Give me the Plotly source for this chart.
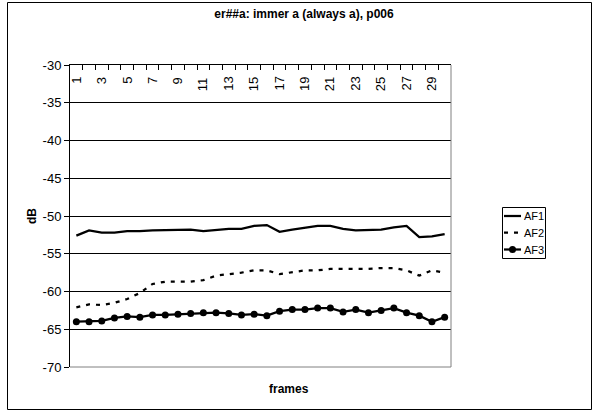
import plotly.graph_objects as go

# Frame numbers and the three formant-amplitude tracks (dB)
frames = list(range(1, 31))
af1 = [-52.6, -51.9, -52.2, -52.2, -52.0, -52.0, -51.9, -51.9, -51.9, -51.8,
       -52.0, -51.9, -51.7, -51.7, -51.3, -51.2, -52.1, -51.8, -51.6, -51.3,
       -51.3, -51.7, -51.9, -51.9, -51.8, -51.5, -51.3, -52.8, -52.7, -52.4]
af2 = [-62.1, -61.7, -61.8, -61.5, -61.0, -60.2, -59.0, -58.7, -58.7, -58.7,
       -58.5, -57.9, -57.7, -57.5, -57.2, -57.2, -57.7, -57.4, -57.2, -57.2,
       -57.0, -57.0, -57.0, -57.0, -56.9, -56.9, -57.2, -57.9, -57.2, -57.5]
af3 = [-64.0, -64.0, -63.9, -63.5, -63.3, -63.4, -63.1, -63.1, -63.0, -62.9,
       -62.8, -62.8, -62.9, -63.1, -63.0, -63.2, -62.6, -62.4, -62.4, -62.2,
       -62.2, -62.7, -62.4, -62.8, -62.5, -62.2, -62.8, -63.2, -64.0, -63.4]
series_names = ["AF1", "AF2", "AF3"]
y_ticks = list(range(-70, -29, 5))
x_tick_frames = frames[::2]

W, H = 594, 411
L, R, T, B = 70, 451, 65, 367          # plot area in pixels
FONT = "Liberation Sans, Arial, sans-serif"
LINE_W = 2.25
DASH = "4px,6px"


def px_x(p):
    return (p - L) / (R - L)


def px_y(p):
    return (B - p) / (B - T)


fig = go.Figure()
styles = [
    dict(mode="lines", line=dict(color="black", width=LINE_W)),
    dict(mode="lines", line=dict(color="black", width=LINE_W, dash=DASH)),
    dict(mode="lines+markers", line=dict(color="black", width=LINE_W),
         marker=dict(color="black", size=7, symbol="circle")),
]
for name, ys, st in zip(series_names, [af1, af2, af3], styles):
    fig.add_trace(go.Scatter(x=frames, y=ys, name=name, showlegend=False, **st))

fig.update_layout(
    width=W, height=H,
    margin=dict(l=L, r=W - R, t=T, b=H - B, autoexpand=False),
    paper_bgcolor="white", plot_bgcolor="white",
    font=dict(family=FONT, size=13, color="black"),
    showlegend=False,
    title=dict(text="<b>er##a: immer a (always a), p006</b>",
               x=304 / W, xanchor="center", y=1 - 14 / H, yanchor="middle",
               font=dict(size=12)),
)

fig.update_xaxes(
    range=[0.5, 30.5], side="top",
    showline=True, linecolor="black", linewidth=1,
    showgrid=False, zeroline=False, showticklabels=False,
    tickmode="array", tickvals=x_tick_frames, ticks="inside", ticklen=0,
    minor=dict(tickmode="linear", tick0=0.5, dtick=1, ticks="inside",
               ticklen=5, tickcolor="black", tickwidth=1, showgrid=False),
)

fig.update_yaxes(
    range=[-70, -30],
    tickmode="array", tickvals=y_ticks, ticktext=[str(v) for v in y_ticks],
    showline=True, linecolor="black", linewidth=1,
    ticks="outside", ticklen=5, tickcolor="black",
    showgrid=True, gridcolor="black", gridwidth=1, zeroline=False,
    tickfont=dict(size=13),
    title=dict(text="<b>dB</b>", font=dict(size=12), standoff=3),
)

# category labels, rotated, hanging just under the top axis line
for f in x_tick_frames:
    fig.add_annotation(text=str(f), xref="x", yref="paper", x=f, y=px_y(75),
                       xanchor="center", yanchor="top", textangle=-90,
                       showarrow=False, font=dict(size=13))

# right and bottom edges of the plot area in grey
fig.add_shape(type="line", xref="paper", yref="paper", x0=1, x1=1, y0=0, y1=1,
              line=dict(color="#808080", width=1))
fig.add_shape(type="line", xref="paper", yref="paper", x0=0, x1=1, y0=0, y1=0,
              line=dict(color="#808080", width=1))
# chart frame
fig.add_shape(type="rect", xref="paper", yref="paper",
              x0=px_x(7.5), x1=px_x(591.5), y0=px_y(409.5), y1=px_y(2.5),
              line=dict(color="black", width=1), layer="below")

fig.add_annotation(text="<b>frames</b>", xref="paper", yref="paper",
                   x=px_x(289), y=px_y(389), xanchor="center", yanchor="middle",
                   showarrow=False, font=dict(size=12))

# legend box with line samples
LG_X0, LG_X1, LG_Y0, LG_Y1 = 502.5, 545.5, 207.5, 258.5
fig.add_shape(type="rect", xref="paper", yref="paper",
              x0=px_x(LG_X0), x1=px_x(LG_X1), y0=px_y(LG_Y1), y1=px_y(LG_Y0),
              line=dict(color="black", width=1), fillcolor="white")
rows = [216, 232.5, 249.5]
for name, st, ry in zip(series_names, styles, rows):
    fig.add_shape(type="line", xref="paper", yref="paper",
                  x0=px_x(504), x1=px_x(521), y0=px_y(ry), y1=px_y(ry),
                  line=dict(color="black", width=LINE_W,
                            dash=st["line"].get("dash", "solid")))
    if "marker" in st:
        fig.add_shape(type="circle", xref="paper", yref="paper",
                      x0=px_x(509), x1=px_x(516), y0=px_y(ry + 3.5), y1=px_y(ry - 3.5),
                      line=dict(color="black", width=0), fillcolor="black")
    fig.add_annotation(text=name, xref="paper", yref="paper",
                       x=px_x(521.5), y=px_y(ry), xanchor="left", yanchor="middle",
                       showarrow=False, font=dict(size=11))

fig.write_html("out.html")
